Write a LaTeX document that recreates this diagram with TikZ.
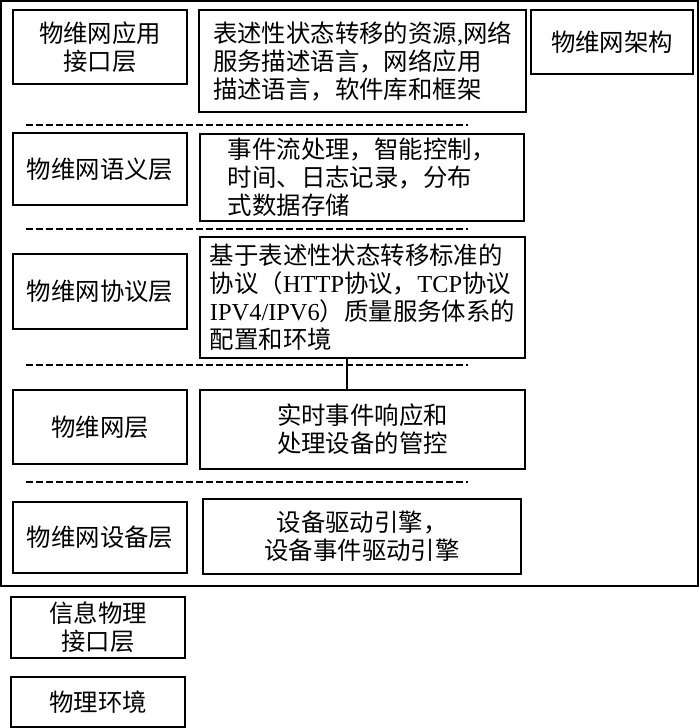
\documentclass[tikz,border=0pt]{standalone}
\usepackage{fontspec}
\setmainfont{Liberation Serif}
\newfontfamily\cjk{Noto Sans CJK SC}
\begin{document}
\begin{tikzpicture}[x=1pt,y=-1pt,
  box/.style={draw=black, line width=2pt, fill=white, inner sep=2pt,
    font=\fontsize{24.4}{28}\selectfont\cjk},
  lbox/.style={box, minimum width=174pt, align=center},
  sepline/.style={line width=1.8pt, dash pattern=on 7pt off 3pt},
  link/.style={line width=2pt}]
\useasboundingbox[fill=white] (0,0) rectangle (700,728);
\node[draw=black, line width=2pt, minimum width=697pt, minimum height=585pt, inner sep=0pt] (frame) at (349.5,293.5) {};
% left layer boxes
\node[lbox, minimum height=74pt] (L1) at (100,47) {物维网应用\\接口层};
\node[lbox, minimum height=72pt] (L2) at (100,169) {物维网语义层};
\node[lbox, minimum height=75pt] (L3) at (100,291.5) {物维网协议层};
\node[lbox, minimum height=74pt] (L4) at (100,427) {物维网层};
\node[lbox, minimum height=71pt] (L5) at (100,537.5) {物维网设备层};
\node[lbox, minimum height=61pt] (L6) at (98,627.5) {信息物理\\接口层};
\node[lbox, minimum height=50pt] (L7) at (98,702) {物理环境};
% right description boxes
\node[box, align=left, minimum width=327pt, minimum height=102pt] (R1) at (362.5,61)
  {表述性状态转移的资源{\rmfamily ,}网络\\服务描述语言，网络应用\\描述语言，软件库和框架};
\node[box, align=left, minimum width=324pt, minimum height=87pt] (R2) at (362,177.5)
  {事件流处理，智能控制，\\时间、日志记录，分布\\式数据存储};
\node[box, align=left, minimum width=325pt, minimum height=121pt] (R3) at (362.5,297.5)
  {基于表述性状态转移标准的\\协议（{\rmfamily HTTP}协议，{\rmfamily TCP}协议\\{\rmfamily IPV4/IPV6}）质量服务体系的\\配置和环境};
\node[box, align=center, minimum width=325pt, minimum height=79pt] (R4) at (362.5,429.5)
  {实时事件响应和\\处理设备的管控};
\node[box, align=center, minimum width=318pt, minimum height=75pt] (R5) at (362,536.5)
  {设备驱动引擎，\\设备事件驱动引擎};
\node[box, minimum width=162pt, minimum height=64pt] (A) at (612,42) {物维网架构};
% separators
\draw[sepline] (26,125) -- (468,125);
\draw[sepline] (26,229) -- (468,229);
\draw[sepline] (26,365) -- (468,365);
\draw[sepline] (26,482) -- (468,482);
% connector
\draw[link] ([xshift=-15.5pt]R3.south) -- ([xshift=-15.5pt]R4.north);
\end{tikzpicture}
\end{document}
